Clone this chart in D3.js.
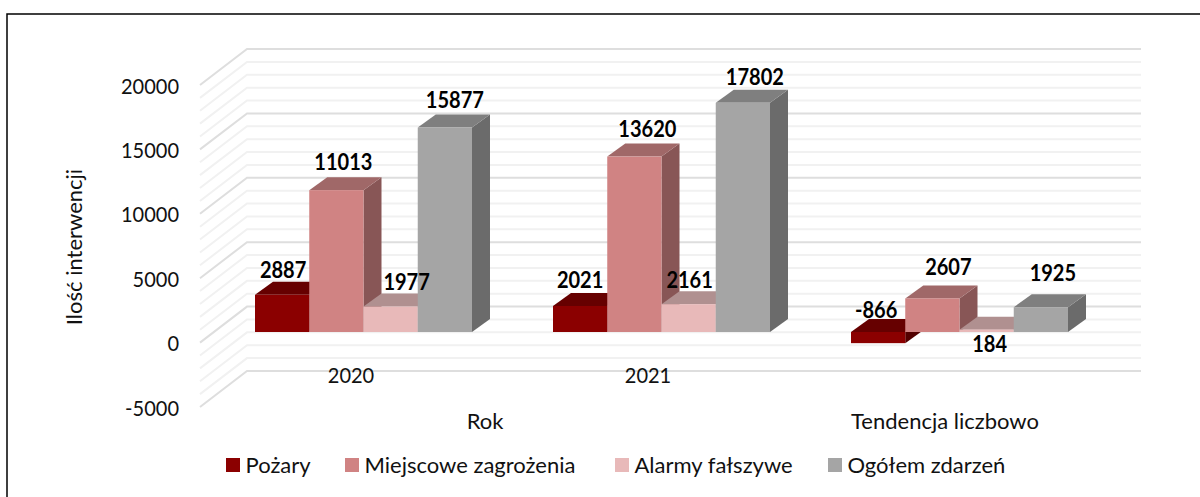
<!DOCTYPE html>
<html>
<head>
<meta charset="utf-8">
<script src="https://cdnjs.cloudflare.com/ajax/libs/d3/7.8.5/d3.min.js"></script>
<style>
    html, body { margin: 0; padding: 0; background: #fff; }
    text { font-family: Lato, "Open Sans", sans-serif; fill: #111; }
</style>
</head>
<body>
<svg id="chart" width="1200" height="497" style="display:block"></svg>
<script>
const groups = ['2020', '2021', ''];
const parentGroups = ['Rok', 'Tendencja liczbowo'];
const seriesNames = ['Pożary', 'Miejscowe zagrożenia', 'Alarmy fałszywe', 'Ogółem zdarzeń'];
const pozary = [2887, 2021, -866];
const miejscowe = [11013, 13620, 2607];
const alarmy = [1977, 2161, 184];
const ogolem = [15877, 17802, 1925];
const yTicks = [-5000, 0, 5000, 10000, 15000, 20000];
const yTitle = 'Ilość interwencji';

// label nudges per series/group, the original had hand moved labels
const labelDx = [[1, 0, -2], [7, 13, 16], [16, 1, 3], [10, 12, 12]];
const labelDy = [[-25, -26, -22], [-28, -27, -31], [-24, -24, 15], [-27, -25, -34]];

const fills = ['#8b0000', '#d08383', '#e8b9b9', '#a5a5a5'];
const topFills = ['#660000', '#a06868', '#b09090', '#7f7f7f'];
const sideFills = ['#520000', '#885656', '#8f7474', '#6b6b6b'];

const allSeries = [pozary, miejscowe, alarmy, ogolem];

const svg = d3.select('#chart');

// only the top and left frame edges are in the crop
svg.append('path')
    .attr('d', 'M7,497V14H1200')
    .attr('fill', 'none').attr('stroke', '#000').attr('stroke-width', 1.5);

// front plane of the box
const y = d3.scaleLinear().domain([-5000, 20000]).range([407, 85]);
const x = d3.scaleBand().domain(groups).range([214, 1108]);
const barX = d3.scaleBand().domain(d3.range(4)).range([41, 258]);

const depthX = 47, depthY = 36;      // whole wall depth
const barDepthX = 18, barDepthY = 13; // depth of a bar
const barZeroY = 332;                 // bars stand forward of the front edge
const barShift = barZeroY - y(0);

const numFormat = v => d3.format('d')(v).replace('−', '-');

// digits in Lato are wider than the original font, squeeze them a bit
function condense(sel) {
    sel.each(function () {
        const len = this.getComputedTextLength();
        d3.select(this).attr('textLength', len * 0.91).attr('lengthAdjust', 'spacingAndGlyphs');
    });
}

// walls
const gridValues = d3.range(-5000, 20001, 1000);
const grid = svg.append('g').attr('fill', 'none');
gridValues.forEach(v => {
    const major = v % 5000 === 0;
    grid.append('path')
        .attr('d', `M200,${y(v)}L${200 + depthX},${y(v) - depthY}H1141`)
        .attr('stroke', major ? '#dedede' : '#f1f1f1')
        .attr('stroke-width', 2);
});

// value axis
const yAxis = d3.axisLeft(y).tickValues(yTicks).tickSize(0).tickPadding(0).tickFormat(numFormat);
const yG = svg.append('g').attr('transform', 'translate(179,1)').call(yAxis);
yG.select('.domain').remove();
yG.selectAll('text')
    .attr('font-size', 22).attr('font-family', 'Lato').attr('fill', '#111')
    .call(condense);

svg.append('text')
    .attr('transform', 'translate(82,247) rotate(-90)')
    .attr('text-anchor', 'middle')
    .attr('font-size', 22)
    .text(yTitle);

// bars
const bars = svg.append('g');
groups.forEach((g, gi) => {
    allSeries.forEach((series, si) => {
        const v = series[gi];
        const x0 = x(g) + barX(si);
        const x1 = x0 + barX.bandwidth();
        const top = y(Math.max(v, 0)) + barShift;
        const bottom = y(Math.min(v, 0)) + barShift;
        const b = bars.append('g');
        b.append('path')
            .attr('fill', sideFills[si])
            .attr('d', `M${x1},${top}l${barDepthX},${-barDepthY}V${bottom - barDepthY}L${x1},${bottom}Z`);
        b.append('path')
            .attr('fill', topFills[si])
            .attr('d', `M${x0},${top}l${barDepthX},${-barDepthY}H${x1 + barDepthX}L${x1},${top}Z`);
        b.append('rect')
            .attr('x', x0).attr('y', top)
            .attr('width', x1 - x0).attr('height', bottom - top)
            .attr('fill', fills[si]);
    });
});

// value labels
groups.forEach((g, gi) => {
    allSeries.forEach((series, si) => {
        const v = series[gi];
        svg.append('text')
            .attr('x', x(g) + barX(si) + barX.bandwidth() / 2 + labelDx[si][gi])
            .attr('y', y(Math.max(v, 0)) + barShift + labelDy[si][gi])
            .attr('dy', '0.35em')
            .attr('text-anchor', 'middle')
            .attr('font-size', 22)
            .attr('font-weight', 700)
            .style('fill', '#000')
            .text(numFormat(v))
            .call(condense);
    });
});

// category labels, two levels
[[groups[0], 351], [groups[1], 648]].forEach(([t, cx]) => {
    svg.append('text').attr('x', cx).attr('y', 375).attr('dy', '0.35em')
        .attr('text-anchor', 'middle').attr('font-size', 22).text(t).call(condense);
});
[[parentGroups[0], 485], [parentGroups[1], 945]].forEach(([t, cx]) => {
    svg.append('text').attr('x', cx).attr('y', 421).attr('dy', '0.35em')
        .attr('text-anchor', 'middle').attr('font-size', 22).text(t);
});

// legend
const legendX = [226, 345, 615, 828];
seriesNames.forEach((name, i) => {
    svg.append('rect')
        .attr('x', legendX[i]).attr('y', 458)
        .attr('width', 14).attr('height', 14)
        .attr('fill', fills[i]);
    svg.append('text')
        .attr('x', legendX[i] + 19.5).attr('y', 465).attr('dy', '0.35em')
        .attr('font-size', 22)
        .text(name);
});
</script>
</body>
</html>
